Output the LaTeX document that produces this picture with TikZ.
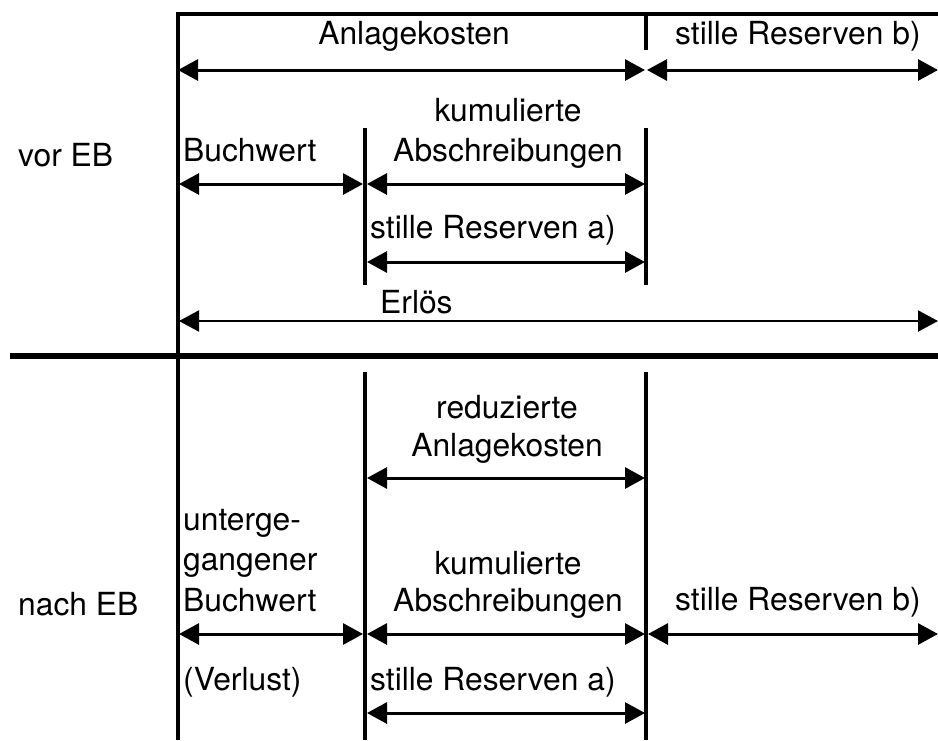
\documentclass[tikz,border=0pt]{standalone}
\usepackage{fontspec}
\setmainfont{TeX Gyre Heros}
\usetikzlibrary{arrows.meta}
\begin{document}
\begin{tikzpicture}[x=1pt,y=-1pt,
  frame/.style={line width=3.5pt},
  sep/.style={line width=6pt},
  dim/.style={line width=3pt,{Triangle[length=20pt,width=21pt]}-{Triangle[length=20pt,width=21pt]}},
  thindim/.style={dim,line width=2pt},
  lbl/.style={inner sep=0pt,font=\fontsize{31.8}{38}\selectfont},
  lw/.style={lbl,anchor=base west},
  lc/.style={lbl,anchor=base}]
\useasboundingbox (0,0) rectangle (938,740);
% frame
\coordinate (tl) at (178,14);
\coordinate (tr) at (938,14);
\coordinate (lb) at (178,740);
\draw[frame] (tr) -- (tl) -- (lb);
\coordinate (m0) at (646,14); \coordinate (m1) at (646,50);
\draw[frame] (m0) -- (m1);
\coordinate (a0) at (365,128); \coordinate (a1) at (365,285);
\coordinate (b0) at (646,128); \coordinate (b1) at (646,285);
\draw[frame] (a0) -- (a1) (b0) -- (b1);
\coordinate (s0) at (10,356); \coordinate (s1) at (938,356);
\draw[sep] (s0) -- (s1);
\coordinate (c0) at (365,372); \coordinate (c1) at (365,740);
\coordinate (d0) at (646,372); \coordinate (d1) at (646,740);
\draw[frame] (c0) -- (c1) (d0) -- (d1);
% labels top
\node[lc] (ak) at (414,44) {Anlagekosten};
\node[lw] (srb1) at (675,44) {stille Reserven b)};
\node[lw] (vor) at (18,166) {vor EB};
\node[lw] (bw) at (183,161) {Buchwert};
\node[lc] (ku1) at (508,121) {kumulierte};
\node[lc] (ab1) at (508,161) {Abschreibungen};
\node[lw] (sra1) at (370,238) {stille Reserven a)};
\node[lw] (er) at (380,313) {Erlös};
% labels bottom
\node[lc] (re) at (507,418) {reduzierte};
\node[lc] (ak2) at (507,456) {Anlagekosten};
\node[lw] (ug1) at (183,530) {unterge-};
\node[lw] (ug2) at (183,570) {gangener};
\node[lw] (ug3) at (183,611) {Buchwert};
\node[lw] (nach) at (18,615) {nach EB};
\node[lc] (ku2) at (508,574) {kumulierte};
\node[lc] (ab2) at (508,611) {Abschreibungen};
\node[lw] (srb2) at (675,610) {stille Reserven b)};
\node[lw] (ver) at (183,690) {(Verlust)};
\node[lw] (sra2) at (370,690) {stille Reserven a)};
% dimension arrows top
\coordinate (p1) at (178,70); \coordinate (p2) at (645,70);
\coordinate (p3) at (647,70); \coordinate (p4) at (938,70);
\draw[dim] (p1) -- (p2);
\draw[dim] (p3) -- (p4);
\coordinate (q1) at (179,184); \coordinate (q2) at (363,184);
\coordinate (q3) at (367,184); \coordinate (q4) at (645,184);
\draw[dim] (q1) -- (q2);
\draw[dim] (q3) -- (q4);
\coordinate (r1) at (367,262); \coordinate (r2) at (645,262);
\draw[dim] (r1) -- (r2);
\coordinate (e1) at (179,321); \coordinate (e2) at (938,321);
\draw[thindim] (e1) -- (e2);
% dimension arrows bottom
\coordinate (u1) at (367,478); \coordinate (u2) at (645,478);
\draw[dim] (u1) -- (u2);
\coordinate (v1) at (179,634); \coordinate (v2) at (363,634);
\coordinate (v3) at (367,634); \coordinate (v4) at (645,634);
\coordinate (v5) at (648,634); \coordinate (v6) at (938,634);
\draw[dim] (v1) -- (v2);
\draw[dim] (v3) -- (v4);
\draw[dim] (v5) -- (v6);
\coordinate (w1) at (367,713); \coordinate (w2) at (645,713);
\draw[dim] (w1) -- (w2);
\end{tikzpicture}
\end{document}
